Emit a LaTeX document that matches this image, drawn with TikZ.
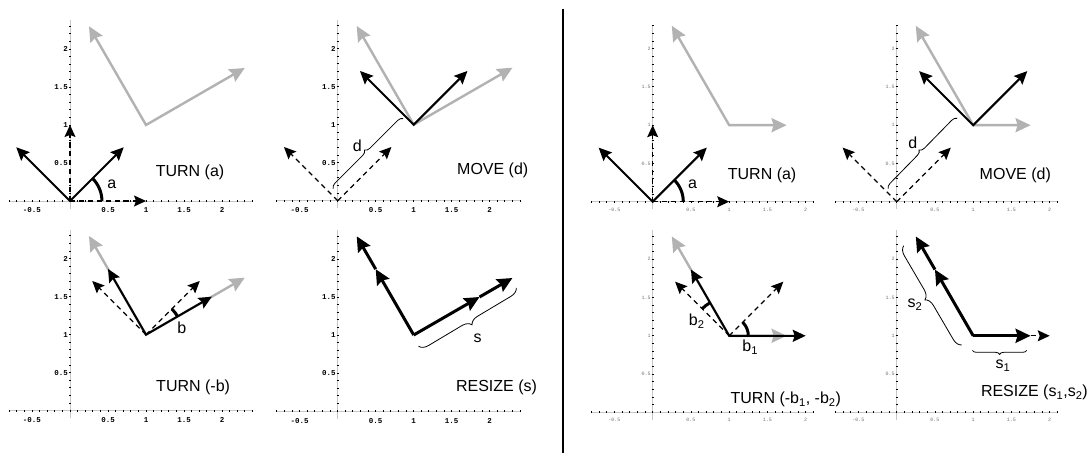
\documentclass[tikz,border=0pt]{standalone}
\usepackage{fontspec}
\setmainfont{Liberation Sans}
\newfontfamily\tickfont{Liberation Mono}
\usetikzlibrary{arrows.meta,decorations.pathreplacing}
\tikzset{
  axisline/.style={draw=black!22, line width=0.9pt},
  tickmark/.style={line width=0.9pt},
  blackvec/.style={line width=2pt, line join=miter, -{Stealth[length=13pt,width=12pt,inset=2pt]}},
  blackboth/.style={line width=2pt, line join=miter, {Stealth[length=13pt,width=12pt,inset=2pt]}-{Stealth[length=13pt,width=12pt,inset=2pt]}},
  grayboth/.style={draw=black!30, line width=2.4pt, line join=miter, {Stealth[length=15pt,width=14pt,inset=2pt]}-{Stealth[length=15pt,width=14pt,inset=2pt]}},
  dashvec/.style={line width=1.2pt, dash pattern=on 5pt off 4pt, -{Stealth[length=12pt,width=11pt,inset=2pt]}},
  thickvec/.style={line width=3pt, -{Stealth[length=15pt,width=14pt,inset=2pt]}},
  anglearc/.style={line width=3pt},
  bracepath/.style={decorate, decoration={brace, amplitude=#1}, line width=0.8pt},
  biglabel/.style={font=\fontsize{16}{16}\selectfont, inner sep=0pt, anchor=base},
  smalllabel/.style={font=\fontsize{16}{16}\selectfont, inner sep=0pt, anchor=base west},
  ticklabL/.style={font=\tickfont\bfseries\fontsize{7.5}{7.5}\selectfont, inner sep=0pt},
  ticklabR/.style={font=\tickfont\fontsize{5}{5}\selectfont, text=black!55, inner sep=0pt},
}
\newcommand\leftaxes[1]{%
  \draw[axisline] (-0.8,0) -- (2.4,0);
  \draw[axisline] (0,-0.1) -- (0,2.38);
  \foreach \i in {-8,...,24}{\draw[tickmark] (\i/10,0) ++(0,-1pt) -- ++(0,2pt);}
  \foreach \i in {1,...,23}{\draw[tickmark] (0,\i/10) ++(-1pt,0) -- ++(2pt,0);}
  \foreach \v/\n in {-0.5/a,0.5/b,1/c,1.5/d,2/e}{\node[ticklabL, anchor=base] (#1x\n) at (\v,0) [yshift=-12pt] {\v};}
  \foreach \v/\n in {0.5/b,1/c,1.5/d,2/e}{\node[ticklabL, anchor=east] (#1y\n) at (0,\v) [xshift=-2pt] {\v};}
}
\newcommand\rightaxes[2]{%
  \draw[axisline] (-0.8,0) -- (2.1,0);
  \draw[axisline] (0,-0.1) -- (0,#2);
  \foreach \i in {-8,...,21}{\draw[tickmark] (\i/10,0) ++(0,-1pt) -- ++(0,2pt);}
  \foreach \i in {1,...,23}{\draw[tickmark] (0,\i/10) ++(-1pt,0) -- ++(2pt,0);}
  \foreach \v/\n in {-0.5/a,0.5/b,1/c,1.5/d,2/e}{\node[ticklabR, anchor=base] (#1x\n) at (\v,0) [yshift=-9.5pt] {\v};}
  \foreach \v/\n in {0.5/b,1/c,1.5/d,2/e}{\node[ticklabR, anchor=east] (#1y\n) at (0,\v) [xshift=-2pt] {\v};}
}
\begin{document}
\begin{tikzpicture}[x=1pt,y=1pt]
\fill[white] (0,0) rectangle (1091,458);
\useasboundingbox (0,0) rectangle (1091,458);
% separator
\coordinate (septop) at (563,449);
\coordinate (sepbot) at (563,5);
\draw[line width=1.3pt] (septop) -- (sepbot);

% ---------- Panel 1: TURN (a)
\begin{scope}[shift={(70pt,257pt)}, x=76pt, y=76pt]
\leftaxes{pa}
\coordinate (pao) at (0,0);
\coordinate (pac) at (1,1);
\coordinate (pag1) at (0.25,2.299);
\coordinate (pag2) at (2.299,1.75);
\coordinate (pab1) at (0.707,0.707);
\coordinate (pab2) at (-0.707,0.707);
\coordinate (pad1) at (1,0);
\coordinate (pad2) at (0,1);
\draw[grayboth] (pag1) -- (pac) -- (pag2);
\draw[dashvec] (pao) -- (pad1);
\draw[dashvec] (pao) -- (pad2);
\draw[blackboth] (pab2) -- (pao) -- (pab1);
\draw[anglearc] (0.42,0) arc[start angle=0,end angle=45,radius=0.42];
\node[smalllabel, anchor=base] (paa) at (0.55,0.167) {a};
\node[biglabel] (pat) at (1.58,0.32) {TURN (a)};
\end{scope}

% ---------- Panel 2: MOVE (d)
\begin{scope}[shift={(337.7pt,257.3pt)}, x=76pt, y=76pt]
\leftaxes{pb}
\coordinate (pbo) at (0,0);
\coordinate (pbc) at (1,1);
\coordinate (pbg1) at (0.25,2.299);
\coordinate (pbg2) at (2.299,1.75);
\coordinate (pbb1) at (1.707,1.707);
\coordinate (pbb2) at (0.293,1.707);
\coordinate (pbd1) at (0.707,0.707);
\coordinate (pbd2) at (-0.707,0.707);
\coordinate (pbs1) at (-0.06,0.16);
\coordinate (pbs2) at (0.86,1.08);
\draw[grayboth] (pbg1) -- (pbc) -- (pbg2);
\draw[dashvec] (pbo) -- (pbd1);
\draw[dashvec] (pbo) -- (pbd2);
\draw[blackboth] (pbb2) -- (pbc) -- (pbb1);
\draw[bracepath=5pt] (pbs1) -- (pbs2);
\node[smalllabel, anchor=base] (pbd) at (0.257,0.645) {d};
\node[biglabel] (pbt) at (2.04,0.34) {MOVE (d)};
\end{scope}

% ---------- Panel 3: TURN (-b)
\begin{scope}[shift={(70pt,47.3pt)}, x=76pt, y=76pt]
\leftaxes{pc}
\coordinate (pcc) at (1,1);
\coordinate (pcg1) at (0.25,2.299);
\coordinate (pcg2) at (2.299,1.75);
\coordinate (pcb1) at (1.866,1.5);
\coordinate (pcb2) at (0.5,1.866);
\coordinate (pcd1) at (1.707,1.707);
\coordinate (pcd2) at (0.293,1.707);
\draw[grayboth] (pcg1) -- (pcc) -- (pcg2);
\draw[dashvec] (pcc) -- (pcd1);
\draw[dashvec] (pcc) -- (pcd2);
\draw[blackboth] (pcb2) -- (pcc) -- (pcb1);
\draw[anglearc] (pcc) ++(30:0.48) arc[start angle=30,end angle=45,radius=0.48];
\node[smalllabel, anchor=base] (pcb) at (1.47,1.02) {b};
\node[biglabel] (pct) at (1.62,0.25) {TURN (-b)};
\end{scope}

% ---------- Panel 4: RESIZE (s)
\begin{scope}[shift={(337.7pt,47pt)}, x=76pt, y=76pt]
\leftaxes{pd}
\coordinate (pdc) at (1,1);
\coordinate (pdm1) at (0.5,1.866);
\coordinate (pde1) at (0.25,2.299);
\coordinate (pdm2) at (1.866,1.5);
\coordinate (pde2) at (2.299,1.75);
\coordinate (pds1) at (2.35,1.62);
\coordinate (pds2) at (1.06,0.85);
\draw[thickvec] (pdc) -- (pdm1);
\draw[thickvec] (pdm1) -- (pde1);
\draw[thickvec] (pdc) -- (pdm2);
\draw[thickvec] (pdm2) -- (pde2);
\draw[bracepath=9pt] (pds1) -- (pds2);
\node[smalllabel, anchor=base] (pds) at (1.84,0.90) {s};
\node[biglabel] (pdt) at (2.09,0.254) {RESIZE (s)};
\end{scope}

% ---------- Panel 5: TURN (a), right
\begin{scope}[shift={(652.7pt,256.3pt)}, x=76.5pt, y=76.5pt]
\rightaxes{pe}{2.31}
\coordinate (peo) at (0,0);
\coordinate (pec) at (1,1);
\coordinate (peg1) at (0.25,2.299);
\coordinate (peg2) at (1.75,1);
\coordinate (peb1) at (0.707,0.707);
\coordinate (peb2) at (-0.707,0.707);
\coordinate (ped1) at (1,0);
\coordinate (ped2) at (0,1);
\draw[grayboth] (peg1) -- (pec) -- (peg2);
\draw[dashvec] (peo) -- (ped1);
\draw[dashvec] (peo) -- (ped2);
\draw[blackboth] (peb2) -- (peo) -- (peb1);
\draw[anglearc] (0.40,0) arc[start angle=0,end angle=45,radius=0.40];
\node[smalllabel, anchor=base] (pea) at (0.52,0.176) {a};
\node[biglabel] (pet) at (1.43,0.285) {TURN (a)};
\end{scope}

% ---------- Panel 6: MOVE (d), right
\begin{scope}[shift={(896.7pt,256.3pt)}, x=76.5pt, y=76.5pt]
\rightaxes{pf}{2.31}
\coordinate (pfo) at (0,0);
\coordinate (pfc) at (1,1);
\coordinate (pfg1) at (0.25,2.299);
\coordinate (pfg2) at (1.75,1);
\coordinate (pfb1) at (1.707,1.707);
\coordinate (pfb2) at (0.293,1.707);
\coordinate (pfd1) at (0.707,0.707);
\coordinate (pfd2) at (-0.707,0.707);
\coordinate (pfs1) at (-0.11,0.17);
\coordinate (pfs2) at (0.79,1.09);
\draw[grayboth] (pfg1) -- (pfc) -- (pfg2);
\draw[dashvec] (pfo) -- (pfd1);
\draw[dashvec] (pfo) -- (pfd2);
\draw[blackboth] (pfb2) -- (pfc) -- (pfb1);
\draw[bracepath=5pt] (pfs1) -- (pfs2);
\node[smalllabel, anchor=base] (pfd) at (0.21,0.69) {d};
\node[biglabel] (pft) at (1.55,0.285) {MOVE (d)};
\end{scope}

% ---------- Panel 7: TURN (-b1, -b2)
\begin{scope}[shift={(652.7pt,45.7pt)}, x=76.5pt, y=76.5pt]
\rightaxes{pg}{2.38}
\coordinate (pgc) at (1,1);
\coordinate (pgg1) at (0.25,2.299);
\coordinate (pgg2) at (1.75,1);
\coordinate (pgb1) at (2,1);
\coordinate (pgb2) at (0.5,1.866);
\coordinate (pgd1) at (1.707,1.707);
\coordinate (pgd2) at (0.293,1.707);
\draw[grayboth] (pgg1) -- (pgc) -- (pgg2);
\draw[dashvec] (pgc) -- (pgd1);
\draw[dashvec] (pgc) -- (pgd2);
\draw[blackboth] (pgb2) -- (pgc) -- (pgb1);
\draw[anglearc] (pgc) ++(0:0.25) arc[start angle=0,end angle=45,radius=0.25];
\draw[anglearc] (pgc) ++(120:0.50) arc[start angle=120,end angle=135,radius=0.50];
\node[smalllabel] (pgl1) at (1.17,0.79) {b\textsubscript{1}};
\node[smalllabel] (pgl2) at (0.47,1.135) {b\textsubscript{2}};
\node[biglabel] (pgt) at (1.74,0.11) {TURN (-b\textsubscript{1}, -b\textsubscript{2})};
\end{scope}

% ---------- Panel 8: RESIZE (s1,s2)
\begin{scope}[shift={(896.7pt,45.7pt)}, x=76.5pt, y=76.5pt]
\rightaxes{ph}{2.38}
\coordinate (phc) at (1,1);
\coordinate (phm1) at (0.5,1.866);
\coordinate (phe1) at (0.25,2.299);
\coordinate (phm2) at (1.75,1);
\coordinate (phe2) at (2,1);
\coordinate (phs1a) at (1.70,0.81);
\coordinate (phs1b) at (0.99,0.81);
\coordinate (phs2a) at (0.85,0.88);
\coordinate (phs2b) at (0.09,2.18);
\draw[thickvec] (phc) -- (phm1);
\draw[thickvec] (phm1) -- (phe1);
\draw[dashvec] (phm2) -- (phe2);
\draw[thickvec] (phc) -- (phm2);
\draw[bracepath=9pt] (phs2a) -- (phs2b);
\draw[bracepath=4pt] (phs1a) -- (phs1b);
\node[smalllabel] (phl2) at (0.14,1.37) {s\textsubscript{2}};
\node[smalllabel] (phl1) at (1.29,0.57) {s\textsubscript{1}};
\node[biglabel] (pht) at (1.80,0.205) {RESIZE (s\textsubscript{1},s\textsubscript{2})};
\end{scope}
\end{tikzpicture}
\end{document}
